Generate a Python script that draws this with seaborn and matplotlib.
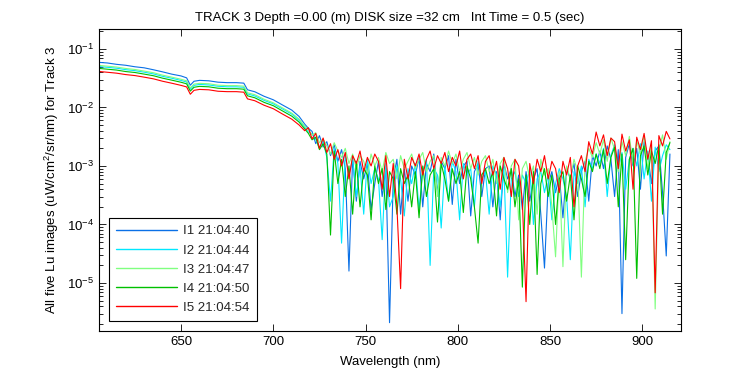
import matplotlib
matplotlib.use("Agg")
import matplotlib.pyplot as plt
import seaborn as sns
import pandas as pd
from matplotlib.ticker import LogLocator, NullFormatter, FixedLocator
from matplotlib.lines import Line2D

# ---------------- data (Lu in units of 1e-3 uW/cm^2/sr/nm) ----------------
wavelength_nm = [605, 610, 615, 620, 625, 630, 635, 640, 645, 650, 653, 655, 657,
                 660, 665, 670, 675, 680, 684, 686, 690, 695, 700, 705, 710, 714,
                 717, 719, 721, 723, 725, 727, 729, 731, 733, 735,
                 737, 739, 741, 743, 745, 747, 749, 751, 753, 755,
                 757, 759, 761, 763, 765, 767, 769, 771, 773, 775,
                 777, 779, 781, 783, 785, 787, 789, 791, 793, 795,
                 797, 799, 801, 803, 805, 807, 809, 811, 813, 815,
                 817, 819, 821, 823, 825, 827, 829, 831, 833, 835,
                 837, 839, 841, 843, 845, 847, 849, 851, 853, 855,
                 857, 859, 861, 863, 865, 867, 869, 871, 873, 875,
                 877, 879, 881, 883, 885, 887, 889, 891, 893, 895,
                 897, 899, 901, 903, 905, 907, 909, 911, 913, 915]

series_labels = ["I1 21:04:40", "I2 21:04:44", "I3 21:04:47", "I4 21:04:50", "I5 21:04:54"]
series_colors = ["#0A70E6", "#00E8FF", "#80FF80", "#00C000", "#FF0000"]

lu_i1 = [59, 57.5, 54.5, 52.5, 49.5, 47.5, 44, 40.5, 37, 34.5, 32, 24, 28,
         29, 28.5, 27, 26.5, 26.5, 26, 20, 18.5, 15.5, 13.5, 11, 9, 7,
         5.2, 4.4, 3.9, 2.4, 3.3, 2.1, 2.6, 1.5, 2.3, 1.2,
         1.9, 0.9, 0.016, 1.4, 0.25, 1.2, 0.6, 1.1, 0.18, 0.5,
         1.2, 0.3, 0.9, 0.0021, 0.6, 1.3, 0.15, 0.9, 0.25, 1.0,
         0.7, 1.4, 0.2, 1.1, 0.8, 1.6, 0.35, 1.2, 0.9, 1.5,
         0.22, 1.3, 0.5, 1.0, 1.2, 0.14, 0.8, 1.1, 0.3, 0.9,
         1.0, 0.2, 0.8, 0.12, 1.1, 0.6, 0.9, 0.3, 0.7, 0.18,
         0.8, 0.25, 0.6, 0.9, 0.15, 0.018, 0.5, 0.8, 0.35, 0.7,
         0.13, 0.9, 0.6, 1.1, 0.3, 0.8, 1.2, 0.25, 1.5, 1.0,
         1.8, 0.9, 2.2, 1.3, 0.3, 1.9, 0.003, 1.4, 2.4, 1.0,
         2.0, 0.4, 2.6, 1.5, 0.5, 1.8, 2.2, 0.35, 0.029, 1.6]

lu_i2 = [50, 48.5, 46.8, 44.2, 42.5, 40, 37.4, 34, 31.5, 28.9, 27.2, 20.4, 23.8,
         24.7, 24.2, 23, 22.5, 22.5, 22.1, 17, 15.7, 13.2, 11.5, 9.4, 7.7, 6,
         4.6, 3.8, 3.5, 2.9, 2.0, 2.7, 1.4, 0.25, 2.0, 1.1,
         0.048, 1.5, 0.7, 1.3, 0.3, 1.0, 0.15, 1.3, 0.5, 0.9,
         0.6, 0.055, 1.1, 0.2, 0.3, 1.0, 0.6, 0.14, 0.9, 0.5,
         1.1, 0.18, 0.8, 1.3, 0.02, 0.9, 0.7, 0.087, 1.0, 0.25,
         1.2, 0.8, 0.12, 1.1, 0.7, 0.9, 0.2, 1.2, 0.6, 0.8,
         0.15, 1.0, 0.7, 0.2, 0.9, 0.0126, 0.6, 0.8, 0.3, 0.7,
         0.5, 0.9, 0.1, 0.6, 0.8, 0.35, 0.7, 0.12, 0.5, 0.9,
         0.6, 0.3, 0.025, 0.8, 0.5, 1.0, 0.2, 1.3, 0.9, 1.6,
         1.1, 2.0, 0.3, 1.5, 2.3, 0.9, 1.7, 0.4, 1.3, 2.0,
         1.0, 2.4, 0.6, 1.8, 0.25, 2.1, 0.8, 1.5, 2.3, 1.9]

lu_i3 = [52.5, 50.7, 49, 46.3, 44.5, 41.8, 39.2, 35.6, 32.9, 30.3, 28.5, 21.5, 25,
         25.8, 25.4, 24, 23.6, 23.6, 23.1, 17.8, 16.5, 13.8, 12, 9.8, 8, 6.3,
         4.8, 4.2, 3.4, 3.7, 2.5, 2.9, 2.2, 1.6, 2.5, 1.8,
         1.4, 2.0, 1.1, 1.6, 0.9, 1.5, 1.2, 0.7, 1.6, 1.0,
         1.4, 0.8, 1.7, 1.1, 1.3, 0.6, 1.5, 0.9, 1.2, 1.6,
         0.9, 1.3, 1.7, 0.8, 1.2, 1.5, 0.3, 1.4, 1.0, 1.8,
         1.1, 1.6, 0.8, 1.3, 1.7, 0.9, 1.4, 0.7, 1.2, 1.5,
         0.8, 1.3, 0.5, 1.1, 1.4, 0.35, 1.0, 1.3, 0.12, 0.9,
         1.2, 0.6, 1.0, 0.15, 1.3, 0.7, 0.9, 0.2, 0.028, 0.8,
         0.019, 1.0, 0.6, 1.3, 0.8, 0.0126, 1.2, 2.0, 1.4, 2.5,
         1.6, 2.8, 1.2, 3.0, 1.9, 0.8, 2.6, 1.5, 3.2, 1.1,
         2.7, 1.6, 3.3, 0.9, 2.4, 0.0036, 1.8, 3.4, 1.3, 2.6]

lu_i4 = [46.6, 45, 43.5, 41, 39.5, 37.1, 34.8, 31.6, 29.2, 26.9, 25.3, 19, 22.1,
         22.9, 22.5, 21.3, 20.9, 20.9, 20.5, 15.8, 14.6, 12.2, 10.7, 8.7, 7.1, 5.6,
         4.3, 3.6, 2.8, 3.1, 1.9, 2.4, 1.6, 0.066, 1.8, 0.5,
         1.3, 0.3, 1.0, 0.15, 1.2, 0.2, 0.9, 0.7, 0.12, 1.0,
         0.5, 0.9, 0.18, 0.8, 0.6, 0.15, 0.9, 0.5, 0.7, 0.2,
         0.8, 0.13, 1.0, 0.3, 0.7, 0.9, 0.11, 1.1, 0.6, 0.25,
         0.9, 0.5, 0.8, 0.16, 1.0, 0.6, 0.2, 0.048, 0.7, 0.9,
         0.5, 0.8, 0.14, 1.0, 0.6, 0.4, 0.9, 0.2, 0.6, 0.0085,
         0.7, 0.1, 0.8, 0.014, 0.5, 0.9, 0.3, 0.7, 0.1, 0.6,
         0.8, 0.25, 0.7, 0.12, 1.0, 0.6, 0.3, 1.2, 0.8, 1.6,
         0.9, 1.9, 0.5, 1.4, 2.1, 0.2, 1.6, 0.025, 1.3, 2.0,
         0.012, 1.5, 2.2, 0.7, 1.8, 1.1, 2.3, 0.15, 1.7, 2.5]

lu_i5 = [41.3, 39.9, 38.5, 36.4, 35, 32.9, 30.8, 28, 25.9, 23.8, 22.4, 16.8, 19.6,
         20.3, 20, 18.9, 18.6, 18.6, 18.2, 14, 13, 10.9, 9.5, 7.7, 6.3, 5,
         4.0, 4.5, 2.9, 3.6, 2.0, 3.0, 1.7, 2.4, 1.3, 1.9,
         1.0, 1.7, 0.6, 1.5, 1.1, 1.8, 0.8, 1.4, 1.0, 1.6,
         1.2, 0.4, 1.5, 0.3, 1.1, 0.2, 0.008, 1.3, 0.6, 1.4,
         1.0, 1.6, 0.7, 1.3, 1.8, 0.9, 1.5, 1.1, 1.7, 0.8,
         1.4, 1.0, 1.8, 0.6, 1.3, 1.6, 0.9, 1.5, 0.5, 1.2,
         1.5, 0.7, 1.2, 0.4, 1.4, 0.9, 0.3, 1.3, 1.0, 0.25,
         0.0048, 1.1, 0.5, 1.3, 0.8, 1.5, 0.6, 1.2, 0.9, 0.35,
         1.2, 0.7, 1.4, 0.2, 1.0, 1.5, 0.8, 2.6, 1.6, 3.8,
         2.2, 3.4, 1.5, 3.0, 2.6, 0.9, 3.5, 1.8, 2.8, 0.4,
         3.1, 1.9, 3.6, 1.3, 2.7, 0.0068, 3.3, 2.2, 3.9, 2.9]

title_text = "TRACK 3 Depth =0.00 (m) DISK size =32 cm   Int Time = 0.5 (sec)"
xlabel_text = "Wavelength (nm)"
ylabel_text = "All five Lu images (uW/cm$^2$/sr/nm) for Track 3"
x_ticks = [650, 700, 750, 800, 850, 900]

# ---------------- build long table ----------------
all_series = [lu_i1, lu_i2, lu_i3, lu_i4, lu_i5]
rows = []
for lab, vals in zip(series_labels, all_series):
    for w, v in zip(wavelength_nm, vals):
        rows.append({"wavelength": w, "lu": v * 1e-3, "scan": lab})
df = pd.DataFrame(rows)

# ---------------- style ----------------
sns.set_theme(style="ticks")
plt.rcParams['font.family'] = ['Liberation Sans', 'DejaVu Sans']
plt.rcParams['mathtext.fontset'] = 'custom'
plt.rcParams['mathtext.rm'] = 'Liberation Sans'
plt.rcParams['mathtext.it'] = 'Liberation Sans:italic'
plt.rcParams['mathtext.bf'] = 'Liberation Sans:bold'

fig = plt.figure(figsize=(7.5, 3.75), dpi=100, facecolor="white")
ax = fig.add_axes([99 / 750, 1 - 331 / 375, (681 - 99) / 750, (331 - 29) / 375])
ax.set_facecolor("white")
ax.set_yscale("log")

sns.lineplot(data=df, x="wavelength", y="lu", hue="scan", hue_order=series_labels,
             palette=series_colors, estimator=None, sort=False, linewidth=0.8,
             legend=False, ax=ax)

ax.set_xlim(605.5, 921)
ax.set_ylim(10 ** -5.82, 10 ** -0.66)
ax.xaxis.set_major_locator(FixedLocator(x_ticks))
ax.yaxis.set_major_locator(LogLocator(base=10, numticks=12))
ax.yaxis.set_minor_locator(LogLocator(base=10, subs=[2, 3, 4, 5, 6, 7, 8, 9], numticks=12))
ax.yaxis.set_minor_formatter(NullFormatter())

for sp in ax.spines.values():
    sp.set_color("black")
    sp.set_linewidth(0.8)
    sp.set_visible(True)
ax.tick_params(which="both", direction="in", top=True, right=True, colors="black",
               labelsize=9.5, width=0.6)
ax.tick_params(which="major", length=5)
ax.tick_params(which="minor", length=3)
ax.tick_params(axis="x", which="minor", length=0)

ax.set_title(title_text, fontsize=9.5, pad=6, color="black")
ax.set_xlabel(xlabel_text, fontsize=9.5, labelpad=6, color="black")
ax.set_ylabel(ylabel_text, fontsize=9.5, labelpad=4, color="black")
ax.grid(False)

handles = [Line2D([0], [0], color=c, lw=1.0) for c in series_colors]
leg = ax.legend(handles, series_labels, loc="lower left", fontsize=9.5, frameon=True,
                fancybox=False, edgecolor="black", framealpha=1, handlelength=4.6,
                handletextpad=0.5, labelspacing=0.52, borderpad=0.55, borderaxespad=0.75)
leg.get_frame().set_linewidth(0.8)

fig.savefig("out.png", dpi=100, facecolor="white")
